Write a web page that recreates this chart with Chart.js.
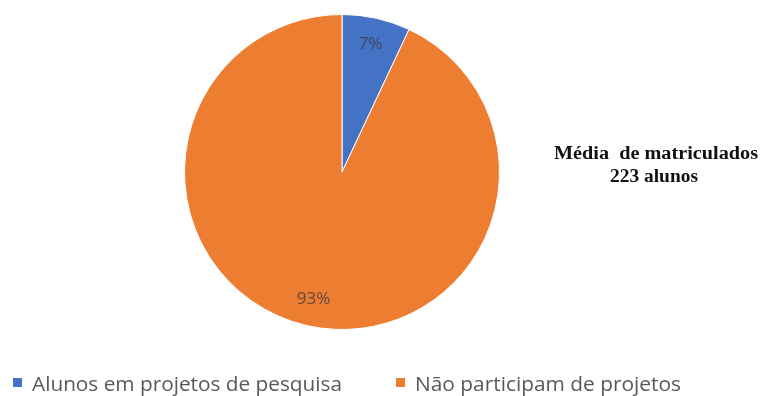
<!DOCTYPE html>
<html>
<head>
<meta charset="utf-8">
<script src="https://cdn.jsdelivr.net/npm/chart.js@4"></script>
<style>
  html, body { margin: 0; padding: 0; background: #fff; }
  #wrap { width: 760px; height: 396px; position: relative; }
</style>
</head>
<body>
<div id="wrap"><canvas id="pieChart" width="760" height="396"></canvas></div>
<script>
// dados
const categorias = ['Alunos em projetos de pesquisa', 'Não participam de projetos'];
const percentuais = [7, 93];
const cores = ['#4472C4', '#ED7D31'];
const anotacao = ['Média  de matriculados', '223 alunos'];

// escreve texto comprimido/esticado até a largura desejada
function textoLargura(ctx, txt, x, y, largura) {
    const w = ctx.measureText(txt).width;
    ctx.save();
    ctx.translate(x, y);
    ctx.scale(largura / w, 1);
    ctx.fillText(txt, 0, 0);
    ctx.restore();
}

// rótulos de porcentagem, texto lateral e legenda
const extras = {
    id: 'extras',
    afterDatasetsDraw(chart) {
        const ctx = chart.ctx;
        const meta = chart.getDatasetMeta(0);
        const total = percentuais.reduce((a, b) => a + b, 0);

        ctx.save();
        ctx.font = '17px "Open Sans", sans-serif';
        ctx.fillStyle = 'rgba(60,60,70,0.8)';
        ctx.textAlign = 'center';
        ctx.textBaseline = 'middle';
        meta.data.forEach((arc, i) => {
            const mid = (arc.startAngle + arc.endAngle) / 2;
            const r = arc.outerRadius * 0.83;
            const x = arc.x + Math.cos(mid) * r;
            const y = arc.y + Math.sin(mid) * r;
            ctx.fillText(Math.round(percentuais[i] / total * 100) + '%', x, y);
        });

        // texto ao lado
        ctx.font = 'bold 18px "Liberation Serif", serif';
        ctx.fillStyle = '#111';
        ctx.textAlign = 'center';
        ctx.textBaseline = 'alphabetic';
        textoLargura(ctx, anotacao[0], 656, 159, 204);
        textoLargura(ctx, anotacao[1], 654, 182, 88);

        // legenda
        ctx.font = '20px "Open Sans", sans-serif';
        ctx.textAlign = 'left';
        const legX = [13, 396];
        const legW = [310, 266];
        categorias.forEach((c, i) => {
            ctx.fillStyle = cores[i];
            ctx.fillRect(legX[i], 378, 9, 9);
            ctx.fillStyle = '#595959';
            textoLargura(ctx, c, legX[i] + 19, 391, legW[i]);
        });
        ctx.restore();
    }
};

new Chart(document.getElementById('pieChart'), {
    type: 'pie',
    data: {
        labels: categorias,
        datasets: [{
            data: percentuais,
            backgroundColor: cores,
            borderColor: '#ffffff',
            borderWidth: 1
        }]
    },
    options: {
        responsive: false,
        animation: false,
        layout: { padding: { left: 184, right: 260, top: 14, bottom: 66 } },
        plugins: {
            legend: { display: false },
            tooltip: { enabled: false }
        }
    },
    plugins: [extras]
});
</script>
</body>
</html>
